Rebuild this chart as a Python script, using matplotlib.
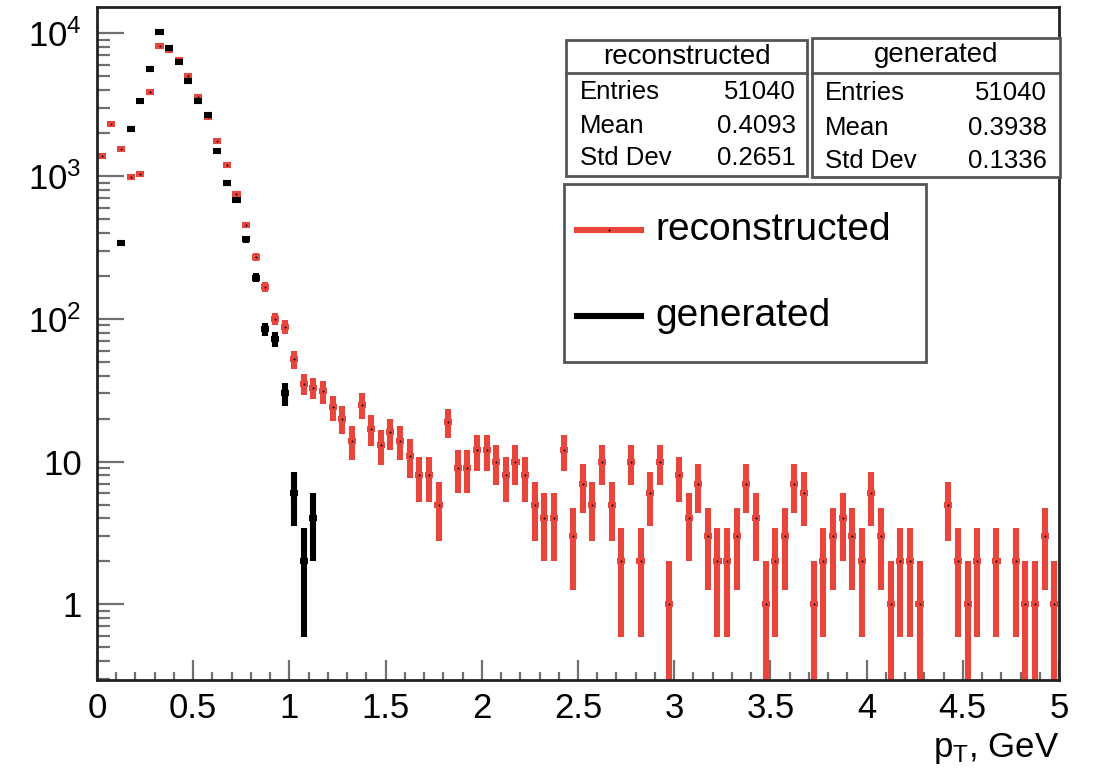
import numpy as np
import matplotlib.pyplot as plt
from matplotlib.patches import Rectangle
from matplotlib.lines import Line2D
from matplotlib.ticker import (FixedLocator, FixedFormatter, LogLocator,
                               MultipleLocator, NullFormatter, FuncFormatter)

plt.rcParams['font.family'] = ['Liberation Sans', 'DejaVu Sans']
plt.rcParams['mathtext.fontset'] = 'custom'
plt.rcParams['mathtext.rm'] = 'Liberation Sans'
plt.rcParams['mathtext.it'] = 'Liberation Sans:italic'

# pT histograms, 100 bins between 0 and 5 GeV
n_bins = 100
pt_min, pt_max = 0.0, 5.0

reco_counts = [
    1390, 2320, 1550, 985, 1040, 3890, 8150, 7700, 6480, 5060,
    3590, 2600, 1750, 1200, 745, 454, 272, 168, 100, 88,
    52, 35, 33, 31, 24, 20, 14, 25, 17, 13,
    16, 14, 11, 8, 8, 5, 19, 9, 9, 12,
    12, 10, 8, 10, 8, 5, 4, 4, 12, 3,
    7, 5, 10, 5, 2, 10, 2, 6, 10, 1,
    8, 4, 7, 3, 2, 2, 3, 7, 4, 1,
    2, 3, 7, 6, 1, 2, 3, 4, 3, 2,
    6, 3, 1, 2, 2, 1, 0, 0, 5, 2,
    1, 2, 0, 2, 0, 2, 1, 1, 3, 1,
]
gen_counts = [
    0, 0, 340, 2130, 3360, 5630, 10200, 7900, 6300, 4620,
    3340, 2680, 1500, 900, 680, 360, 194, 85, 72, 30,
    6, 2, 4,
] + [0] * 77

stat_rows = ['Entries', 'Mean', 'Std Dev']
stat_reco = ['51040', '0.4093', '0.2651']
stat_gen = ['51040', '0.3938', '0.1336']

RED = '#e8453c'
W, H = 1094, 773


def fpos(x, y):
    # pixel position -> figure fraction
    return x / W, 1 - y / H


fig = plt.figure(figsize=(W / 100, H / 100), dpi=100)
ax = fig.add_axes([97 / W, 1 - 680 / H, (1059 - 97) / W, (680 - 7) / H])

edges = np.linspace(pt_min, pt_max, n_bins + 1)
centers = 0.5 * (edges[:-1] + edges[1:])
half = 0.5 * (edges[1] - edges[0])


def draw_hist(counts, color, z, dot):
    n = np.asarray(counts, float)
    m = n > 0
    x, y = centers[m], n[m]
    err = np.sqrt(y)
    lo = np.minimum(err, y - 1e-3)  # keep lower end positive on log axis
    ax.errorbar(x, y, xerr=half * 0.84, yerr=[lo, err], fmt='none',
                ecolor=color, elinewidth=4.4, capsize=0, zorder=z)
    if dot:
        ax.plot(x, y, 'o', ms=1.4, color='black', mew=0, zorder=z + 0.5)


draw_hist(reco_counts, RED, 2, True)
draw_hist(gen_counts, 'black', 3, False)

ax.set_xlim(pt_min, pt_max)
ax.set_yscale('log')
ax.set_ylim(0.295, 15300)

ax.yaxis.set_major_locator(FixedLocator([1, 10, 100, 1000, 10000]))
ax.yaxis.set_major_formatter(FixedFormatter(
    ['1', '10', r'$10^{2}$', r'$10^{3}$', r'$10^{4}$']))
ax.yaxis.set_minor_locator(LogLocator(base=10, subs=np.arange(2, 10), numticks=50))
ax.yaxis.set_minor_formatter(NullFormatter())
ax.xaxis.set_major_locator(MultipleLocator(0.5))
ax.xaxis.set_minor_locator(MultipleLocator(0.1))
ax.xaxis.set_major_formatter(FuncFormatter(lambda v, _: f'{v:g}'))

ax.tick_params(which='both', direction='in', top=False, right=False,
               color='#707070', width=1.6, labelsize=25)
ax.tick_params(axis='y', which='major', length=19.5, pad=11)
ax.tick_params(axis='y', which='minor', length=9.5)
ax.tick_params(axis='x', which='major', length=14.5, pad=9)
ax.tick_params(axis='x', which='minor', length=6)
for s in ax.spines.values():
    s.set_linewidth(2)
    s.set_color('#222222')

fig.text(*fpos(1059, 748), r'p$_{\mathrm{T}}$, GeV', ha='right', va='center', fontsize=25)


# statistics boxes
def stat_box(x0, y0, x1, y1, ydiv, title, values, row_y, xl, xr):
    lx, ly = fpos(x0, y1)
    fig.add_artist(Rectangle((lx, ly), (x1 - x0) / W, (y1 - y0) / H,
                             transform=fig.transFigure, facecolor='white',
                             edgecolor='#555555', linewidth=2, zorder=5))
    fig.add_artist(Line2D([x0 / W, x1 / W], [1 - ydiv / H] * 2,
                          transform=fig.transFigure, color='#555555',
                          linewidth=2, zorder=6))
    fig.text(*fpos((x0 + x1) / 2, (y0 + ydiv) / 2), title, ha='center',
             va='center', fontsize=20, zorder=7)
    for name, val, yy in zip(stat_rows, values, row_y):
        fig.text(*fpos(xl, yy), name, ha='left', va='center', fontsize=18.5, zorder=7)
        fig.text(*fpos(xr, yy), val, ha='right', va='center', fontsize=18.5, zorder=7)


stat_box(566, 40, 807, 176, 73, 'reconstructed', stat_reco, [92, 126, 158], 580, 796)
stat_box(812, 38, 1060, 177, 72.5, 'generated', stat_gen, [93, 128, 161], 825, 1047)

# legend
lx, ly = fpos(564, 362)
fig.add_artist(Rectangle((lx, ly), (926 - 564) / W, (362 - 184) / H,
                         transform=fig.transFigure, facecolor='white',
                         edgecolor='#555555', linewidth=2, zorder=5))
for label, color, yy in [('reconstructed', RED, 230), ('generated', 'black', 316)]:
    fig.add_artist(Line2D([577 / W, 641 / W], [1 - yy / H] * 2,
                          transform=fig.transFigure, color=color,
                          linewidth=4.4, zorder=6))
    fig.text(*fpos(655, yy), label, ha='left', va='center', fontsize=28, zorder=7)
fig.add_artist(Line2D([609 / W], [1 - 230 / H], transform=fig.transFigure,
                      marker='o', ms=1.4, mew=0, color='black', zorder=7))

fig.savefig('out.png', dpi=100)
